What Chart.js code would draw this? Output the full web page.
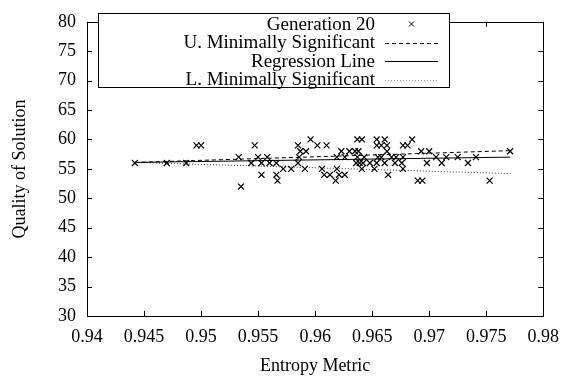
<!DOCTYPE html>
<html>
<head>
<meta charset="utf-8">
<script src="https://cdn.jsdelivr.net/npm/chart.js@4.4.1/dist/chart.umd.min.js"></script>
<style>
  html, body { margin: 0; padding: 0; background: #fff; }
</style>
</head>
<body>
<canvas id="chart" width="569" height="377"></canvas>
<script>
(function () {
  'use strict';

  // Generation 20 scatter: entropy metric vs. quality of solution
  var entropy = [
    0.9442, 0.9470, 0.9487, 0.9496, 0.9500, 0.9533, 0.9535, 0.9544, 0.9547, 0.9550,
    0.9553, 0.9553, 0.9558, 0.9560, 0.9566, 0.9566, 0.9567, 0.9572, 0.9579, 0.9585,
    0.9585, 0.9586, 0.9587, 0.9591, 0.9592, 0.9596, 0.9602, 0.9606, 0.9608, 0.9610,
    0.9613, 0.9618, 0.9619, 0.9619, 0.9621, 0.9623, 0.9626, 0.9626, 0.9630, 0.9635,
    0.9636, 0.9637, 0.9637, 0.9638, 0.9639, 0.9641, 0.9641, 0.9642, 0.9643, 0.9648,
    0.9652, 0.9654, 0.9654, 0.9654, 0.9655, 0.9658, 0.9658, 0.9661, 0.9661, 0.9663,
    0.9663, 0.9664, 0.9667, 0.9670, 0.9671, 0.9676, 0.9677, 0.9677, 0.9677, 0.9681,
    0.9685, 0.9690, 0.9693, 0.9694, 0.9698, 0.9700, 0.9706, 0.9711, 0.9715, 0.9725,
    0.9734, 0.9741, 0.9753, 0.9771
  ];
  var quality = [
    56, 56, 56, 59, 59, 57, 52, 56, 59, 57,
    56, 54, 57, 56, 56, 54, 53, 55, 55, 59,
    56, 57, 58, 55, 58, 60, 59, 55, 54, 59,
    54, 53, 57, 55, 54, 58, 57, 54, 58, 58,
    56, 60, 57, 58, 56, 60, 55, 56, 57, 56,
    55, 60, 59, 56, 57, 59, 57, 60, 56, 59,
    58, 54, 57, 56, 57, 56, 59, 57, 55, 59,
    60, 53, 58, 53, 56, 58, 57, 56, 57, 57,
    56, 57, 53, 58
  ];

  // fitted lines (end points)
  var lineX = [0.9442, 0.9771];
  var upperY = [56.1, 58.1];
  var regressionY = [56.1, 57.0];
  var lowerY = [56.1, 54.2];

  var seriesLabels = [
    'Generation 20',
    'U. Minimally Significant',
    'Regression Line',
    'L. Minimally Significant'
  ];

  var fontFamily = "'Liberation Serif', 'Times New Roman', serif";

  function pairs(xs, ys) {
    return xs.map(function (x, i) { return { x: x, y: ys[i] }; });
  }

  function lineSet(label, ys, dash, color) {
    return {
      label: label,
      data: pairs(lineX, ys),
      showLine: true,
      borderColor: color,
      borderWidth: 1,
      borderDash: dash,
      pointRadius: 0,
      fill: false
    };
  }

  // gnuplot-like frame, inward ticks on all sides, boxed key
  var framePlugin = {
    id: 'frame',
    afterDatasetsDraw: function (chart) {
      var ctx = chart.ctx;
      var a = chart.chartArea;
      var xs = chart.scales.x;
      var ys = chart.scales.y;
      var tick = 5;
      ctx.save();
      ctx.strokeStyle = '#000';
      ctx.lineWidth = 1;
      ctx.beginPath();
      xs.ticks.forEach(function (t) {
        var px = Math.round(xs.getPixelForValue(t.value)) + 0.5;
        ctx.moveTo(px, a.bottom); ctx.lineTo(px, a.bottom - tick);
        ctx.moveTo(px, a.top); ctx.lineTo(px, a.top + tick);
      });
      ys.ticks.forEach(function (t) {
        var py = Math.round(ys.getPixelForValue(t.value)) + 0.5;
        ctx.moveTo(a.left, py); ctx.lineTo(a.left + tick, py);
        ctx.moveTo(a.right, py); ctx.lineTo(a.right - tick, py);
      });
      ctx.stroke();
      ctx.strokeRect(Math.round(a.left) + 0.5, Math.round(a.top) + 0.5,
        Math.round(a.right - a.left), Math.round(a.bottom - a.top));

      // key box
      var bx = 98.5, by = 13.5, bw = 351, bh = 74;
      ctx.fillStyle = '#fff';
      ctx.fillRect(bx, by, bw, bh);
      ctx.strokeRect(bx, by, bw, bh);
      ctx.font = '19px ' + fontFamily;
      ctx.fillStyle = '#000';
      ctx.textAlign = 'right';
      ctx.textBaseline = 'middle';
      var sx0 = 385, sx1 = 438;
      chart.data.datasets.forEach(function (ds, i) {
        var ry = 24 + i * 18.5;
        ctx.fillText(ds.label, 375, ry + 1);
        ctx.save();
        if (i === 0) {
          var cx = (sx0 + sx1) / 2, r = 2.5;
          ctx.beginPath();
          ctx.moveTo(cx - r, ry - r); ctx.lineTo(cx + r, ry + r);
          ctx.moveTo(cx + r, ry - r); ctx.lineTo(cx - r, ry + r);
          ctx.stroke();
        } else {
          ctx.strokeStyle = i === 3 ? '#999' : ds.borderColor;
          ctx.setLineDash(ds.borderDash || []);
          ctx.beginPath();
          ctx.moveTo(sx0, Math.round(ry) + 0.5);
          ctx.lineTo(sx1, Math.round(ry) + 0.5);
          ctx.stroke();
        }
        ctx.restore();
      });
      ctx.restore();
    }
  };

  new Chart(document.getElementById('chart'), {
    type: 'scatter',
    data: {
      datasets: [
        {
          label: seriesLabels[0],
          data: pairs(entropy, quality),
          pointStyle: 'crossRot',
          pointRadius: 4.2,
          borderColor: '#000',
          borderWidth: 1.2,
          backgroundColor: '#000'
        },
        lineSet(seriesLabels[1], upperY, [4, 3], '#000'),
        lineSet(seriesLabels[2], regressionY, [], '#000'),
        lineSet(seriesLabels[3], lowerY, [1, 2], '#333')
      ]
    },
    options: {
      responsive: false,
      animation: false,
      layout: { padding: { left: 0, top: 8, right: 25, bottom: 0 } },
      plugins: {
        legend: { display: false },
        tooltip: { enabled: false }
      },
      scales: {
        x: {
          type: 'linear',
          min: 0.94,
          max: 0.98,
          grid: { display: false, drawTicks: false },
          border: { display: false },
          afterFit: function (s) { s.height = 61; },
          ticks: {
            stepSize: 0.005,
            padding: 10,
            color: '#000',
            font: { family: fontFamily, size: 18 },
            maxRotation: 0,
            callback: function (v) { return String(parseFloat(v.toFixed(3))); }
          },
          title: {
            display: true,
            text: 'Entropy Metric',
            color: '#000',
            font: { family: fontFamily, size: 18 },
            padding: { top: 0, bottom: 0 }
          }
        },
        y: {
          min: 30,
          max: 80,
          grid: { display: false, drawTicks: false },
          border: { display: false },
          afterFit: function (s) { s.width = 87; },
          ticks: {
            stepSize: 5,
            padding: 11,
            color: '#000',
            font: { family: fontFamily, size: 18 }
          },
          title: {
            display: true,
            text: 'Quality of Solution',
            color: '#000',
            font: { family: fontFamily, size: 18 },
            padding: { top: 9, bottom: 0 }
          }
        }
      }
    },
    plugins: [framePlugin]
  });
})();
</script>
</body>
</html>
